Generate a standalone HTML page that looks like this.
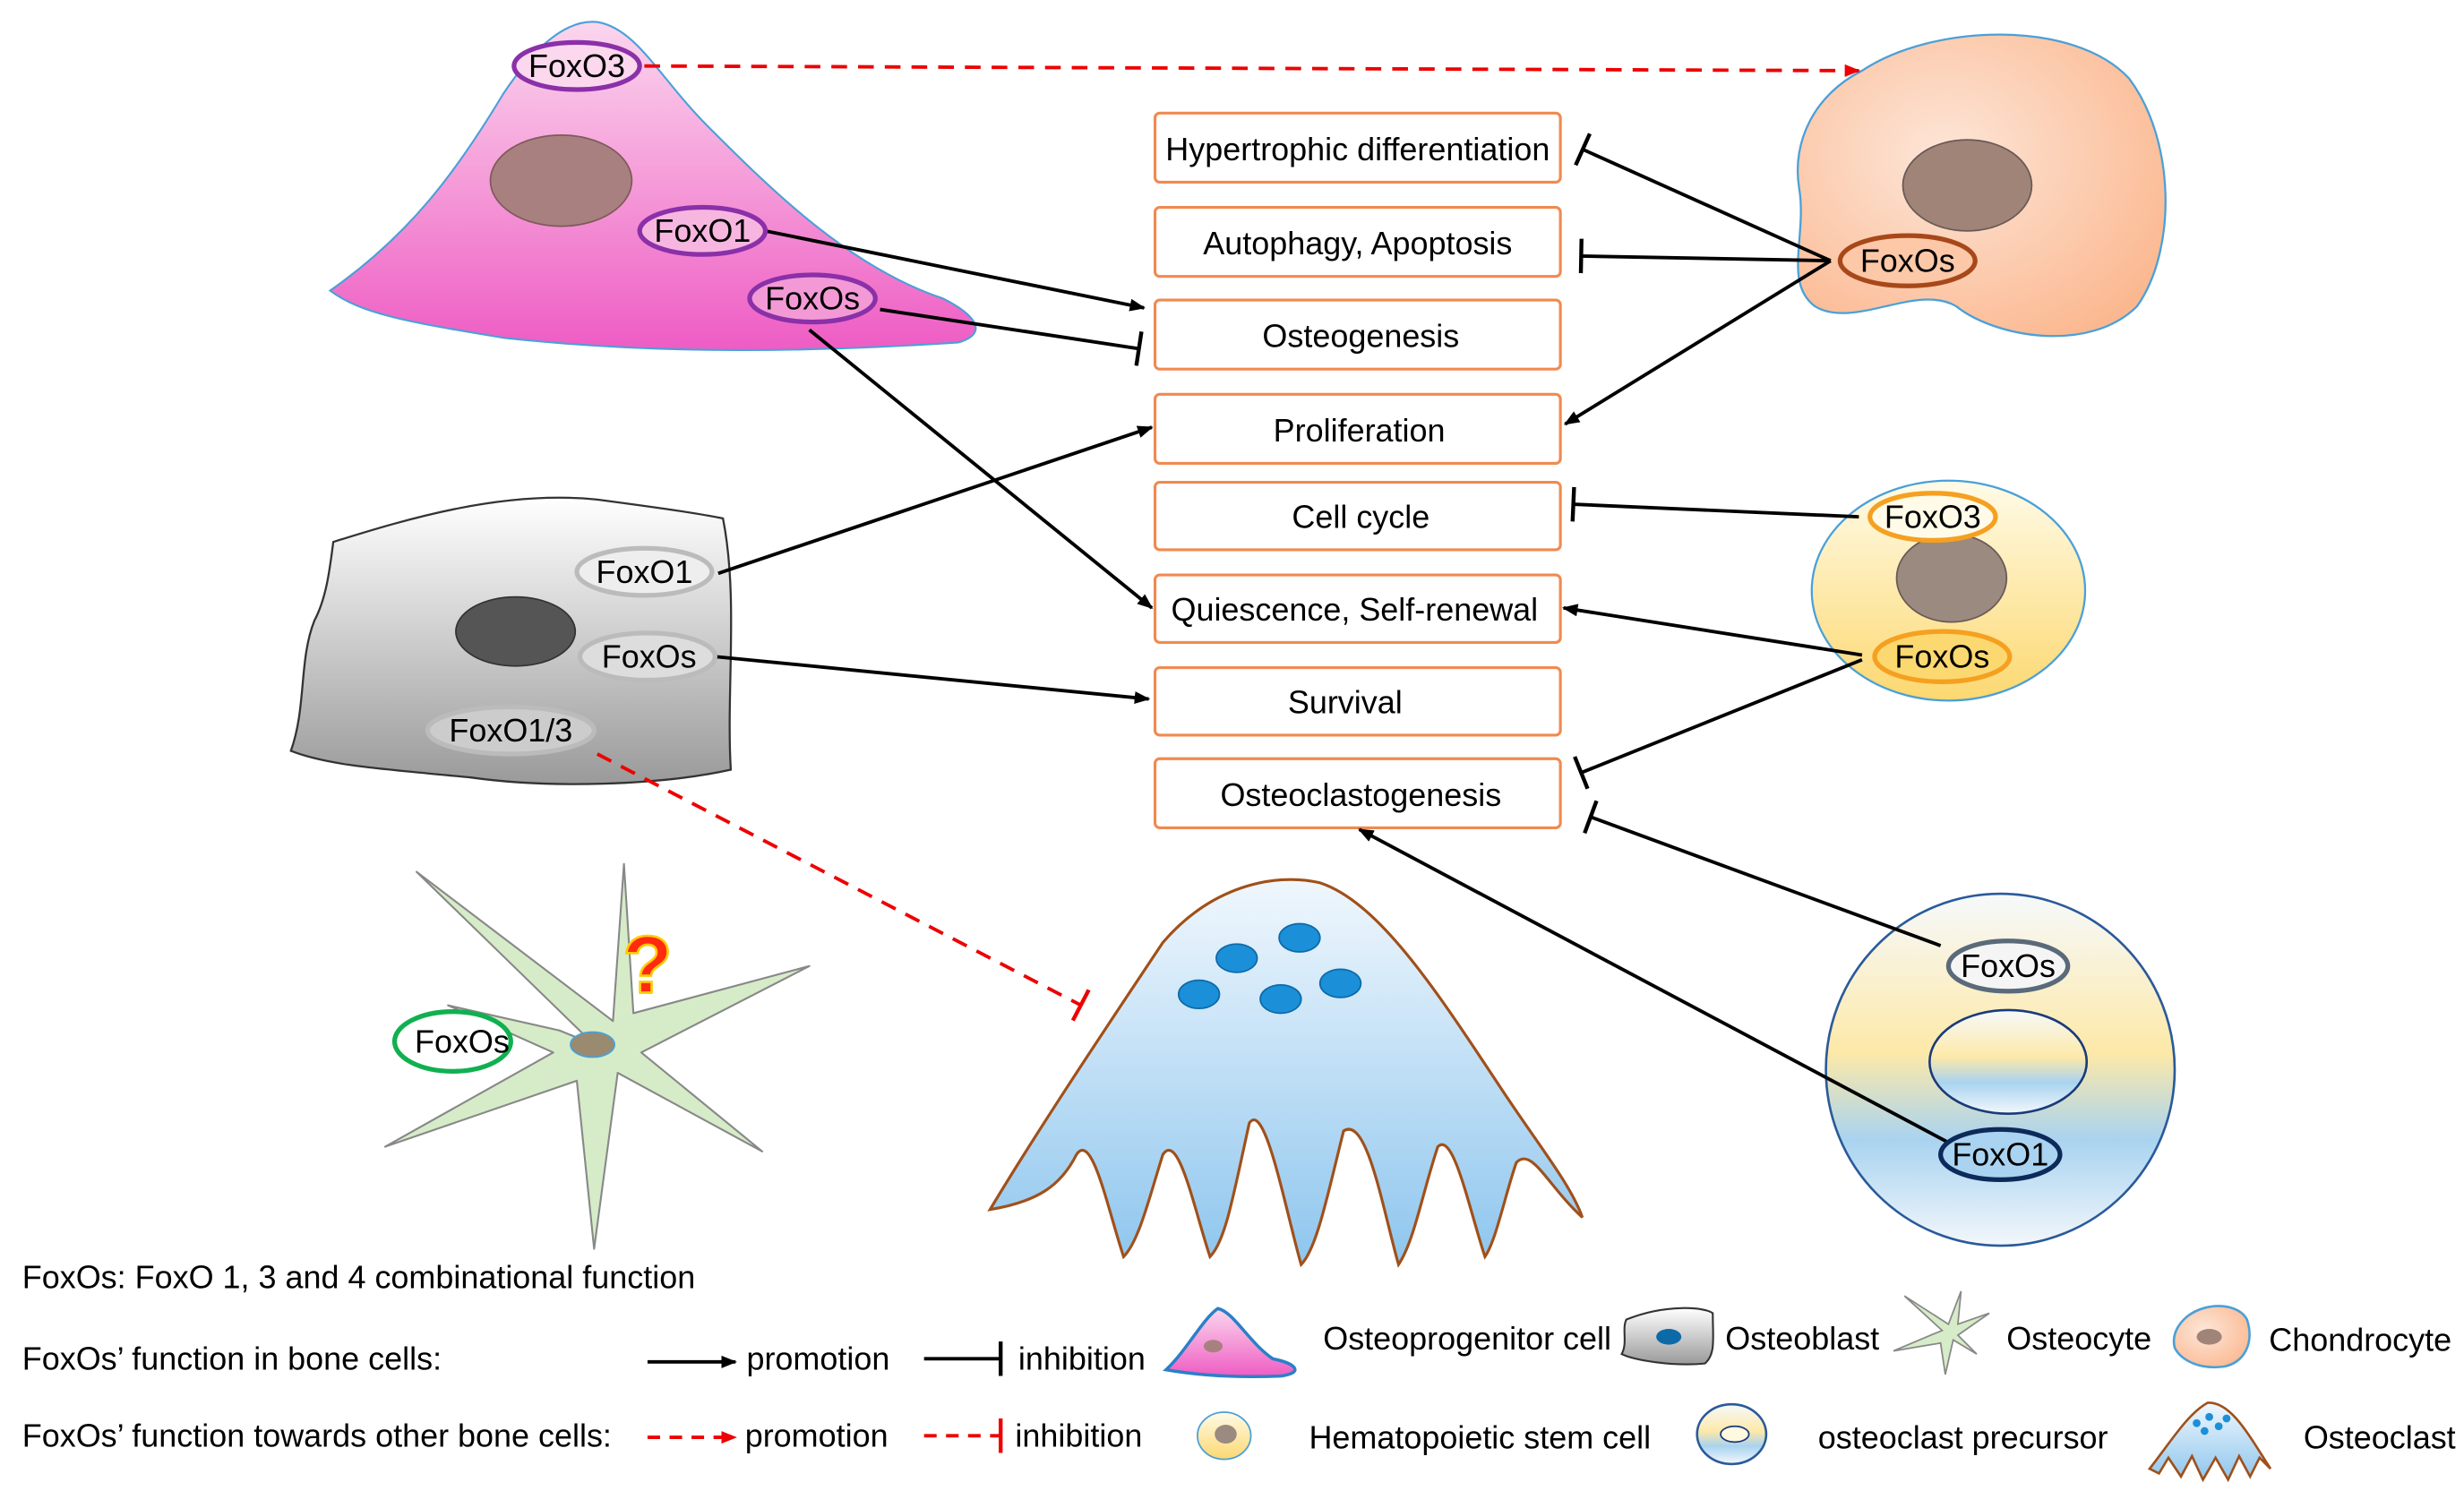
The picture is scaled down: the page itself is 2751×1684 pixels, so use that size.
<!DOCTYPE html>
<html><head><meta charset="utf-8"><style>
html,body{margin:0;padding:0;background:#fff;}
svg{display:block}
text{font-family:"Liberation Sans",Arial,sans-serif;}
</style></head><body>
<svg width="2751" height="1684" viewBox="0 0 1568 960" xmlns="http://www.w3.org/2000/svg">
<defs>
<linearGradient id="pink" x1="0" y1="0" x2="0" y2="1"><stop offset="0" stop-color="#fbd6ee"/><stop offset="0.5" stop-color="#f59ad8"/><stop offset="1" stop-color="#ee5cc4"/></linearGradient>
<linearGradient id="gray" x1="0" y1="0" x2="0" y2="1"><stop offset="0" stop-color="#ffffff"/><stop offset="1" stop-color="#9a9a9a"/></linearGradient>
<radialGradient id="peach" cx="0.4" cy="0.4" r="0.7"><stop offset="0" stop-color="#fde6d8"/><stop offset="1" stop-color="#fbb890"/></radialGradient>
<linearGradient id="hsc" x1="0" y1="0" x2="0" y2="1"><stop offset="0" stop-color="#fffbe8"/><stop offset="1" stop-color="#fcd870"/></linearGradient>
<linearGradient id="prec" x1="0" y1="0" x2="0" y2="1"><stop offset="0" stop-color="#f6f9fc"/><stop offset="0.45" stop-color="#fde9a8"/><stop offset="0.7" stop-color="#a9d3f0"/><stop offset="1" stop-color="#f3f7fb"/></linearGradient>
<linearGradient id="ocl" x1="0" y1="0" x2="0" y2="1"><stop offset="0" stop-color="#f0f7fd"/><stop offset="1" stop-color="#8ec6ee"/></linearGradient>
<marker id="ah" markerWidth="10" markerHeight="8" refX="9" refY="4" orient="auto" markerUnits="userSpaceOnUse"><path d="M0,0 L10,4 L0,8z" fill="#000"/></marker>
<marker id="ahr" markerWidth="10" markerHeight="8" refX="9" refY="4" orient="auto" markerUnits="userSpaceOnUse"><path d="M0,0 L10,4 L0,8z" fill="#e00"/></marker>
<marker id="bar" markerWidth="4" markerHeight="22" refX="2" refY="11" orient="auto" markerUnits="userSpaceOnUse"><rect x="0.5" y="0" width="2.5" height="22" fill="#000"/></marker>
<marker id="barr" markerWidth="4" markerHeight="22" refX="2" refY="11" orient="auto" markerUnits="userSpaceOnUse"><rect x="0.5" y="0" width="2.5" height="22" fill="#e00"/></marker>
</defs>

<path d="M210,185 C260,150 290,110 320,60 C340,30 360,12 380,14 C405,18 420,50 450,80 C490,120 540,170 600,190 C620,200 630,212 610,218 C520,224 420,226 320,215 C260,205 230,200 210,185Z" fill="url(#pink)" stroke="#4aa0d8" stroke-width="1.2"/>
<ellipse cx="357" cy="115" rx="45" ry="29" fill="#a88080" stroke="#805a5a"/>
<path d="M1185,45 C1230,15 1320,12 1355,50 C1385,90 1385,160 1360,195 C1330,225 1270,215 1245,195 C1220,180 1180,210 1155,195 C1135,180 1150,150 1145,120 C1140,90 1155,60 1185,45Z" fill="url(#peach)" stroke="#4aa0d8" stroke-width="1.3"/>
<ellipse cx="1252" cy="118" rx="41" ry="29" fill="#a08478" stroke="#6a5a55"/>
<path d="M212,345 C260,330 320,312 380,318 C410,322 440,326 460,330 C470,380 462,440 465,490 C420,500 350,502 300,495 C250,490 210,488 185,478 C195,450 190,420 200,395 C208,380 210,360 212,345Z" fill="url(#gray)" stroke="#333" stroke-width="1.3"/>
<ellipse cx="328" cy="402" rx="38" ry="22" fill="#555" stroke="#333"/>
<ellipse cx="1240" cy="376" rx="87" ry="70" fill="url(#hsc)" stroke="#4aa0d8" stroke-width="1.3"/>
<ellipse cx="1242" cy="368" rx="35" ry="28" fill="#9a8a80" stroke="#6a5a55"/>
<ellipse cx="1273" cy="681" rx="111" ry="112" fill="url(#prec)" stroke="#2a5a9a" stroke-width="1.5"/>
<ellipse cx="1278" cy="676" rx="50" ry="33" fill="url(#prec)" stroke="#1a3a7a" stroke-width="1.5"/>
<path d="M630,770 C660,720 700,660 740,600 C770,565 810,555 840,562 C880,575 920,640 960,700 C980,730 1000,755 1007,775 C985,755 975,730 965,740 C958,760 952,790 945,800 C935,770 925,720 915,730 C905,760 900,790 890,805 C880,770 870,710 855,720 C845,760 838,795 828,805 C818,770 805,700 795,715 C785,760 780,790 770,800 C760,770 750,720 740,735 C732,760 725,790 715,800 C705,770 695,720 685,735 C675,755 660,765 630,770Z" fill="url(#ocl)" stroke="#a0501a" stroke-width="1.8"/>
<g fill="#1b8fd8" stroke="#0d6aa8"><ellipse cx="787" cy="610" rx="13" ry="9"/><ellipse cx="827" cy="597" rx="13" ry="9"/><ellipse cx="763" cy="633" rx="13" ry="9"/><ellipse cx="815" cy="636" rx="13" ry="9"/><ellipse cx="853" cy="626" rx="13" ry="9"/></g>
<path d="M378,665 L265,555 L390,650 L397,550 L403,645 L515,615 L408,670 L485,733 L393,683 L378,795 L367,688 L245,730 L352,670 L285,640 L356,656Z" fill="#d6ecc8" stroke="#888" stroke-width="1.2" stroke-linejoin="round"/>
<ellipse cx="377" cy="665" rx="14" ry="8" fill="#9a8a70" stroke="#4aa0d8"/>
<text x="412" y="632" font-size="52" font-weight="bold" fill="#ff2a10" text-anchor="middle" stroke="#ffcc00" stroke-width="1.5">?</text>

<g fill="#fff" stroke="#f08a50" stroke-width="1.8">
<rect x="735" y="72" width="258" height="44" rx="3"/><rect x="735" y="132" width="258" height="44" rx="3"/><rect x="735" y="191" width="258" height="44" rx="3"/><rect x="735" y="251" width="258" height="44" rx="3"/><rect x="735" y="307" width="258" height="43" rx="3"/><rect x="735" y="366" width="258" height="43" rx="3"/><rect x="735" y="425" width="258" height="43" rx="3"/><rect x="735" y="483" width="258" height="44" rx="3"/>
</g>
<g font-size="20.5" text-anchor="middle" fill="#000">
<text x="864" y="102">Hypertrophic differentiation</text><text x="864" y="162">Autophagy, Apoptosis</text><text x="866" y="221">Osteogenesis</text><text x="865" y="281">Proliferation</text><text x="866" y="336">Cell cycle</text><text x="862" y="395">Quiescence, Self-renewal</text><text x="856" y="454">Survival</text><text x="866" y="513">Osteoclastogenesis</text>
</g>

<g stroke="#000" stroke-width="2.2" fill="none">
<line x1="487" y1="147" x2="728" y2="196" marker-end="url(#ah)"/>
<line x1="560" y1="197" x2="725" y2="222" marker-end="url(#bar)"/>
<line x1="515" y1="210" x2="733" y2="387" marker-end="url(#ah)"/>
<line x1="457" y1="365" x2="733" y2="272" marker-end="url(#ah)"/>
<line x1="455" y1="418" x2="731" y2="445" marker-end="url(#ah)"/>
<line x1="1165" y1="166" x2="1007" y2="95" marker-end="url(#bar)"/>
<line x1="1165" y1="166" x2="1006" y2="163" marker-end="url(#bar)"/>
<line x1="1165" y1="166" x2="996" y2="270" marker-end="url(#ah)"/>
<line x1="1183" y1="329" x2="1001" y2="321" marker-end="url(#bar)"/>
<line x1="1185" y1="417" x2="995" y2="387" marker-end="url(#ah)"/>
<line x1="1185" y1="420" x2="1006" y2="492" marker-end="url(#bar)"/>
<line x1="1235" y1="602" x2="1012" y2="520" marker-end="url(#bar)"/>
<line x1="1245" y1="730" x2="865" y2="528" marker-end="url(#ah)"/>
</g>
<g stroke="#e00" stroke-width="2.2" fill="none" stroke-dasharray="10,7">
<line x1="410" y1="42" x2="1183" y2="45" marker-end="url(#ahr)"/>
<line x1="380" y1="480" x2="688" y2="640" marker-end="url(#barr)"/>
</g>

<g font-size="20.5" text-anchor="middle" fill="#000" stroke-width="3">
<ellipse cx="367" cy="42" rx="40" ry="15" fill="#fbd8ee" stroke="#8a30a8"/><text x="367" y="49">FoxO3</text>
<ellipse cx="447" cy="147" rx="40" ry="15" fill="#f7b6e0" stroke="#8a30a8"/><text x="447" y="154">FoxO1</text>
<ellipse cx="517" cy="190" rx="40" ry="15" fill="#f39ad6" stroke="#8a30a8"/><text x="517" y="197">FoxOs</text>
<ellipse cx="1214" cy="166" rx="43" ry="16" fill="#fcc8a8" stroke="#a8481a"/><text x="1214" y="173">FoxOs</text>
<ellipse cx="410" cy="364" rx="43" ry="15" fill="#eee" stroke="#bbb"/><text x="410" y="371">FoxO1</text>
<ellipse cx="412" cy="418" rx="43" ry="15" fill="#ddd" stroke="#bbb"/><text x="413" y="425">FoxOs</text>
<ellipse cx="325" cy="465" rx="53" ry="15" fill="#ccc" stroke="#bbb"/><text x="325" y="472">FoxO1/3</text>
<ellipse cx="1230" cy="329" rx="40" ry="15" fill="#fffbe8" stroke="#f5a020"/><text x="1230" y="336">FoxO3</text>
<ellipse cx="1236" cy="418" rx="43" ry="16" fill="#fcd870" stroke="#f5a020"/><text x="1236" y="425">FoxOs</text>
<ellipse cx="1278" cy="615" rx="38" ry="16" fill="#f5f5f5" stroke="#5a6a7a"/><text x="1278" y="622">FoxOs</text>
<ellipse cx="1273" cy="735" rx="38" ry="16" fill="#a9d3f0" stroke="#0d2a5a"/><text x="1273" y="742">FoxO1</text>
<ellipse cx="288" cy="663" rx="37" ry="19" fill="#fff" stroke="#10b050"/><text x="294" y="670">FoxOs</text>
</g>

<g font-size="20.5" fill="#000">
<text x="14" y="820">FoxOs: FoxO 1, 3 and 4 combinational function</text>
<text x="14" y="872">FoxOs’ function in bone cells:</text>
<text x="14" y="921">FoxOs’ function towards  other bone cells:</text>
<text x="475" y="872">promotion</text><text x="648" y="872">inhibition</text>
<text x="474" y="921">promotion</text><text x="646" y="921">inhibition</text>
<text x="842" y="859">Osteoprogenitor cell</text><text x="1098" y="859">Osteoblast</text><text x="1277" y="859">Osteocyte</text><text x="1444" y="860">Chondrocyte</text>
<text x="833" y="922">Hematopoietic stem cell</text><text x="1157" y="922">osteoclast precursor</text><text x="1466" y="922">Osteoclast</text>
</g>
<g stroke-width="2.2">
<line x1="412" y1="867" x2="468" y2="867" stroke="#000" marker-end="url(#ah)"/>
<line x1="588" y1="865" x2="637" y2="865" stroke="#000" marker-end="url(#bar)"/>
<line x1="412" y1="915" x2="468" y2="915" stroke="#e00" stroke-dasharray="8,6" marker-end="url(#ahr)"/>
<line x1="588" y1="914" x2="637" y2="914" stroke="#e00" stroke-dasharray="8,6" marker-end="url(#barr)"/>
</g>
<path d="M742,872 C755,860 765,840 775,833 C785,835 795,855 810,865 C825,868 830,874 815,876 C790,877 765,876 742,872Z" fill="url(#pink)" stroke="#2a80c8" stroke-width="2"/>
<ellipse cx="772" cy="857" rx="6" ry="4" fill="#a88080"/>
<path d="M1035,840 C1060,830 1085,832 1090,836 C1090,852 1092,862 1085,868 C1065,870 1040,866 1032,862 C1036,855 1032,846 1035,840Z" fill="url(#gray)" stroke="#333" stroke-width="1.2"/>
<ellipse cx="1062" cy="851" rx="8" ry="5" fill="#0d6aa8"/>
<path d="M1236,847 L1212,825 L1240,843 L1248,822 L1246,843 L1266,836 L1246,850 L1258,862 L1243,853 L1238,875 L1235,855 L1205,860 L1231,849Z" fill="#d6ecc8" stroke="#888"/>
<path d="M1392,838 C1405,828 1425,830 1430,840 C1435,855 1428,868 1415,870 C1400,872 1388,866 1384,858 C1382,850 1386,843 1392,838Z" fill="url(#peach)" stroke="#4aa0d8" stroke-width="1.5"/>
<ellipse cx="1406" cy="851" rx="8" ry="5" fill="#a08478"/>
<ellipse cx="779" cy="914" rx="17" ry="15" fill="url(#hsc)" stroke="#4aa0d8"/>
<ellipse cx="780" cy="913" rx="7" ry="6" fill="#9a8a80"/>
<ellipse cx="1102" cy="913" rx="22" ry="19" fill="url(#prec)" stroke="#2a5a9a" stroke-width="1.5"/>
<ellipse cx="1104" cy="913" rx="9" ry="5" fill="#fff9e0" stroke="#1a3a7a"/>
<path d="M1368,935 C1380,920 1392,900 1405,893 C1420,892 1432,915 1445,935 L1438,928 L1432,940 L1425,927 L1418,942 L1410,928 L1402,942 L1395,927 L1388,940 L1380,928 L1374,938Z" fill="url(#ocl)" stroke="#a0501a" stroke-width="1.5"/>
<g fill="#1b8fd8"><circle cx="1398" cy="906" r="2.5"/><circle cx="1406" cy="902" r="2.5"/><circle cx="1412" cy="908" r="2.5"/><circle cx="1403" cy="911" r="2.5"/><circle cx="1417" cy="903" r="2.5"/></g>
</svg>
</body></html>
